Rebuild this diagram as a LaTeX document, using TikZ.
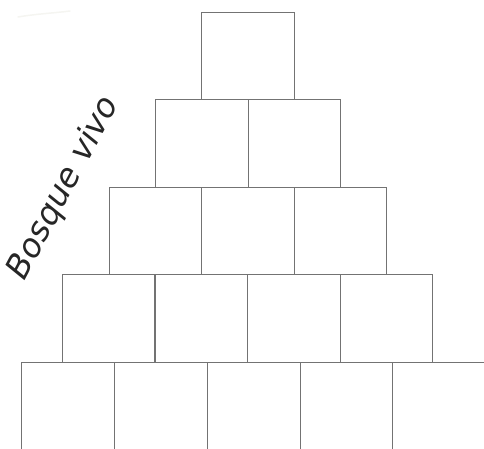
\documentclass[tikz,border=0pt]{standalone}
\usepackage{fontspec}
\newfontfamily\handfont{DejaVu Sans}[Scale=1]
\begin{document}
\begin{tikzpicture}[x=1pt,y=-1pt,
  brick/.style={draw=black!55, line width=0.9pt, minimum width=92.5pt, minimum height=87.5pt, inner sep=0pt, outer sep=0pt, anchor=north west},
  edge/.style={draw=black!55, line width=0.9pt},
  label/.style={font=\handfont\fontsize{33}{33}\selectfont\itshape, text=black!85, inner sep=0pt}]
\useasboundingbox (0,0) rectangle (484,449);
% faint smudge
\draw[color=yellow!25!black!6, line width=1.5pt, line cap=round] (18,17) .. controls (35,14) and (55,13) .. (70,11);
% row 1
\node[brick] (r1a) at (201.5,12) {};
% row 2
\node[brick] (r2a) at (155.5,99.5) {};
\node[brick] (r2b) at (248,99.5) {};
% row 3
\node[brick] (r3a) at (109,187) {};
\node[brick] (r3b) at (201.5,187) {};
\node[brick] (r3c) at (294,187) {};
% row 4
\node[brick] (r4a) at (62,274.5) {};
\node[brick] (r4b) at (155,274.5) {};
\node[brick] (r4c) at (247.5,274.5) {};
\node[brick] (r4d) at (340,274.5) {};
% row 5 (open at bottom, running off the page)
\coordinate (b0) at (21.5,362);
\coordinate (b1) at (114,362);
\coordinate (b2) at (207,362);
\coordinate (b3) at (300,362);
\coordinate (b4) at (392.5,362);
\coordinate (b5) at (484,362);
\draw[edge] (b0) -- (b5);
\foreach \c in {b0,b1,b2,b3,b4} \draw[edge] (\c) -- ++(0,90);
% title
\node[label, rotate=62] (title) at (64,188) {Bosque vivo};
\end{tikzpicture}
\end{document}
